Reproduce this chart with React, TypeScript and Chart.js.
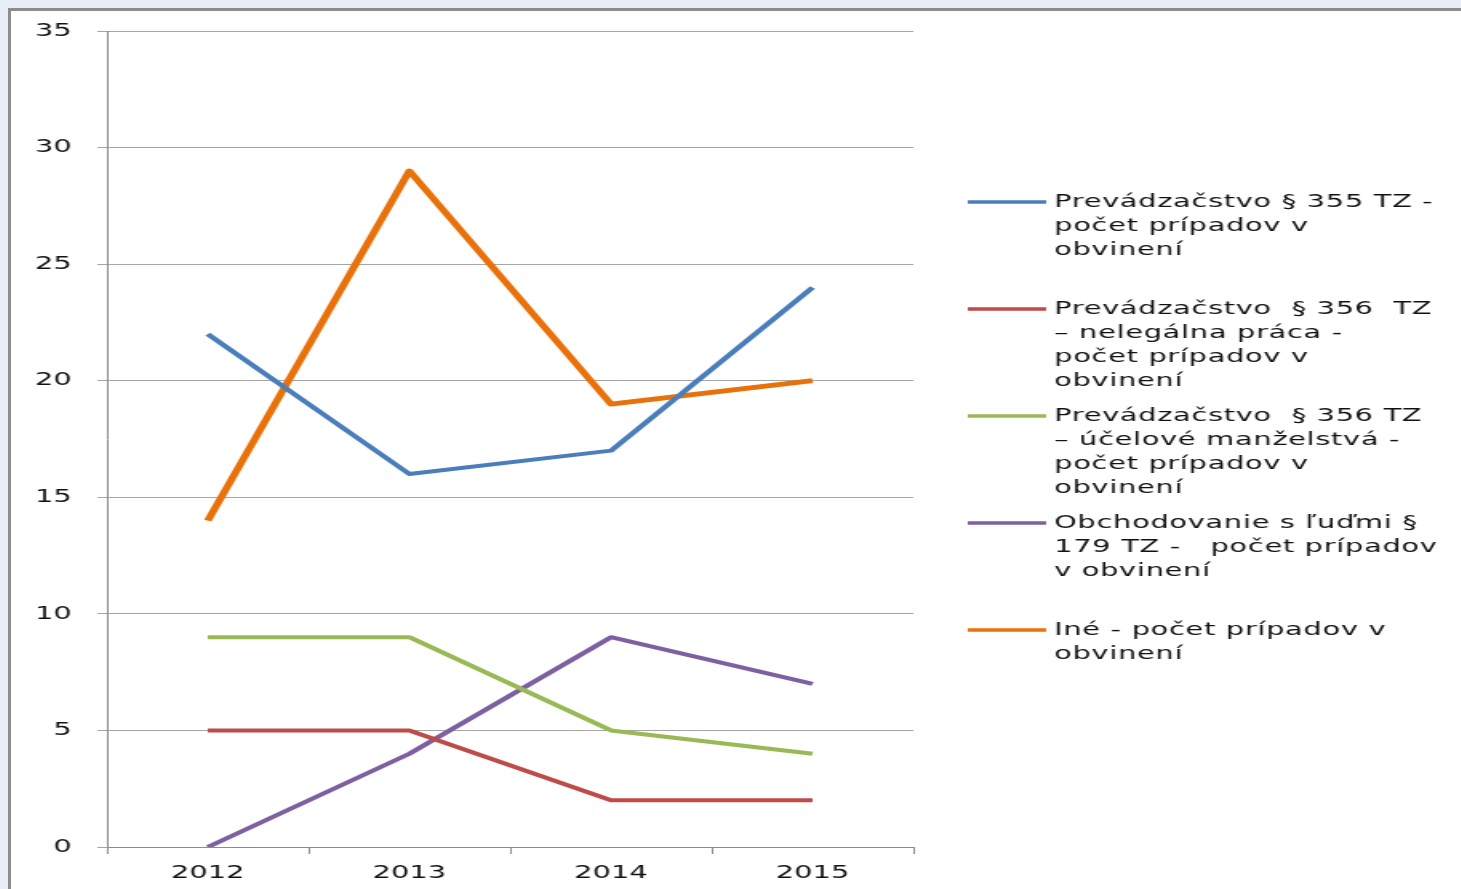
import React, { useEffect, useRef } from "react";
import { Chart, registerables } from "chart.js";

Chart.register(...registerables);

const categories = ["2012", "2013", "2014", "2015"];

const prevadzacstvo355 = [22, 16, 17, 24];
const nelegalnaPraca356 = [5, 5, 2, 2];
const ucelManzelstva356 = [9, 9, 5, 4];
const obchodovanie179 = [0, 4, 9, 7];
const ine = [14, 29, 19, 20];

const legend355 = ["Prevádzačstvo § 355 TZ -", "počet prípadov v", "obvinení"];
const legend356a = ["Prevádzačstvo  § 356  TZ", "– nelegálna práca -", "počet prípadov v", "obvinení"];
const legend356b = ["Prevádzačstvo  § 356 TZ", "– účelové manželstvá -", "počet prípadov v", "obvinení"];
const legend179 = ["Obchodovanie s ľuďmi §", "179 TZ -   počet prípadov", "v obvinení"];
const legendIne = ["Iné - počet prípadov v", "obvinení"];

const yTicks = [0, 5, 10, 15, 20, 25, 30, 35];

const seriesColors = ["#4a7ebb", "#be4b48", "#98b954", "#7d60a0", "#e8710a"];
const seriesWidths = [4, 4, 4, 4, 4.8];

const FONT = '"DejaVu Sans", sans-serif';
const SX = 1.6;
const W = 906;
const H = 878;
const TEXT = "#111111";

const legendPlugin = {
  id: "sideLegend",
  afterDraw(chart: any) {
    const ctx = chart.ctx;
    const lines = [legend355, legend356a, legend356b, legend179, legendIne];
    ctx.save();
    ctx.font = `18px ${FONT}`;
    ctx.textBaseline = "middle";
    ctx.textAlign = "left";
    try {
      (ctx as any).letterSpacing = "0.45px";
    } catch (e) {}
    chart.data.datasets.forEach((ds: any, i: number) => {
      const y0 = 191 + i * 107;
      ctx.strokeStyle = ds.borderColor;
      ctx.lineWidth = 3.5;
      ctx.beginPath();
      ctx.moveTo(598, y0);
      ctx.lineTo(647, y0);
      ctx.stroke();
      ctx.fillStyle = TEXT;
      lines[i].forEach((t: string, j: number) => {
        ctx.fillText(t, 652, y0 + j * 24);
      });
    });
    ctx.restore();
  },
};

export default function App() {
  const ref = useRef<HTMLCanvasElement | null>(null);

  useEffect(() => {
    document.body.style.background = "#e8eef6";
    const canvas = ref.current;
    if (!canvas) return;
    const series = [prevadzacstvo355, nelegalnaPraca356, ucelManzelstva356, obchodovanie179, ine];
    const labels = [legend355, legend356a, legend356b, legend179, legendIne];
    const chart = new Chart(canvas, {
      type: "line",
      data: {
        labels: categories,
        datasets: series.map((s, i) => ({
          label: labels[i].join(" "),
          data: s,
          borderColor: seriesColors[i],
          backgroundColor: seriesColors[i],
          borderWidth: seriesWidths[i],
          pointRadius: 0,
          pointHoverRadius: 0,
          tension: 0,
          fill: false,
          borderJoinStyle: "round" as const,
        })),
      },
      options: {
        responsive: false,
        animation: false,
        layout: { padding: { left: 0, right: 342, top: 20, bottom: 0 } },
        plugins: {
          legend: { display: false },
          tooltip: { enabled: false },
        },
        scales: {
          x: {
            type: "category",
            offset: true,
            afterFit: (scale: any) => {
              scale.height = 42;
              scale.paddingLeft = 0;
              scale.paddingRight = 0;
            },
            grid: {
              offset: true,
              drawOnChartArea: false,
              drawTicks: true,
              tickLength: 7,
              color: "#8c8c8c",
              lineWidth: 1,
            },
            border: { display: true, color: "#8c8c8c", width: 1 },
            ticks: {
              color: TEXT,
              font: { family: FONT, size: 18 },
              padding: 9,
              maxRotation: 0,
            },
          },
          y: {
            min: 0,
            max: 35,
            afterFit: (scale: any) => {
              scale.width = 60;
              scale.paddingTop = 0;
              scale.paddingBottom = 0;
            },
            afterBuildTicks: (scale: any) => {
              scale.ticks = yTicks.map((v) => ({ value: v }));
            },
            grid: {
              color: "#a6a6a6",
              lineWidth: 1,
              tickLength: 6,
            },
            border: { display: true, color: "#8c8c8c", width: 1 },
            ticks: {
              color: TEXT,
              font: { family: FONT, size: 18 },
              padding: 16,
            },
          },
        },
      },
      plugins: [legendPlugin],
    });
    return () => chart.destroy();
  }, []);

  return (
    <div
      style={{
        position: "fixed",
        left: 8,
        top: 8,
        right: 0,
        bottom: 0,
        background: "#ffffff",
        borderTop: "3px solid #8c8c8c",
        borderLeft: "3px solid #8c8c8c",
        overflow: "hidden",
      }}
    >
      <canvas
        ref={ref}
        width={W}
        height={H}
        style={{ display: "block", transform: `scaleX(${SX})`, transformOrigin: "0 0" }}
      />
    </div>
  );
}
